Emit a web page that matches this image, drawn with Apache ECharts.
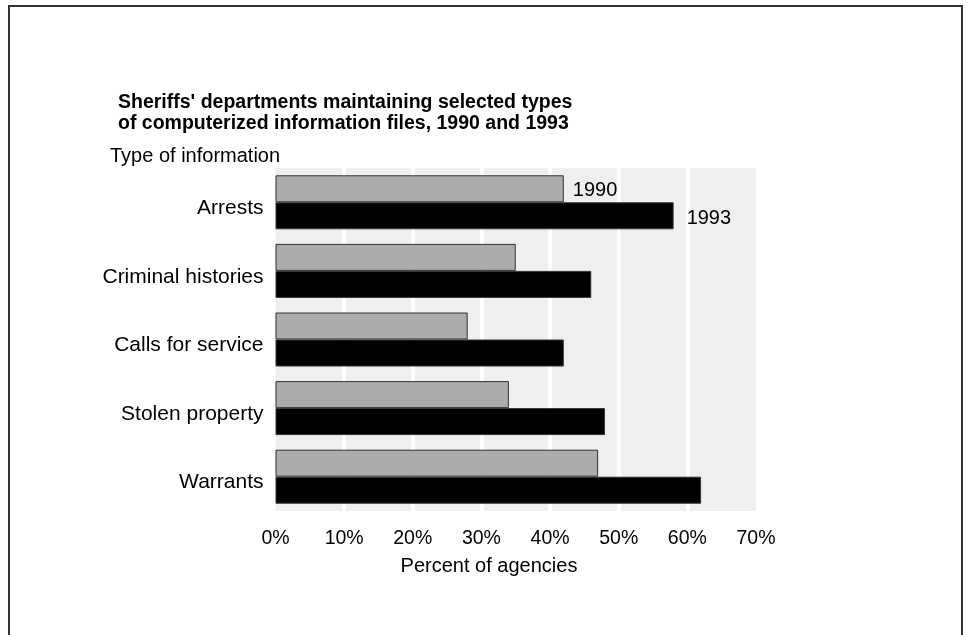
<!DOCTYPE html>
<html>
<head>
<meta charset="utf-8">
<script src="https://cdn.jsdelivr.net/npm/echarts@6/dist/echarts.min.js"></script>
<style>
  html, body { margin: 0; padding: 0; background: #fff; }
  #chart { width: 969px; height: 635px; }
</style>
</head>
<body>
<div id="chart"></div>
<script>
// Types of computerized information files kept by sheriffs' departments
const categories = ['Arrests', 'Criminal histories', 'Calls for service', 'Stolen property', 'Warrants'];
const seriesNames = ['1990', '1993'];
const values1990 = [42, 35, 28, 34, 47];
const values1993 = [58, 46, 42, 48, 62];
const tickValues = [0, 10, 20, 30, 40, 50, 60, 70];

const FONT = 'Liberation Sans, Arial, Helvetica, sans-serif';

// Only the first category carries the year labels beside its bars
function withYearLabel(values, name, distance, dy) {
  return values.map((v, i) => i === 0
    ? { value: v, label: { show: true, position: 'right', distance: distance, offset: [0, dy],
        formatter: name, color: '#000', fontFamily: FONT, fontSize: 20 } }
    : v);
}

const chart = echarts.init(document.getElementById('chart'), null, { renderer: 'canvas' });

chart.setOption({
  backgroundColor: '#fff',
  animation: false,
  title: {
    text: "Sheriffs' departments maintaining selected types\nof computerized information files, 1990 and 1993",
    left: 113,
    top: 87,
    textStyle: { fontFamily: FONT, fontSize: 19.5, fontWeight: 'bold', color: '#000', lineHeight: 21 }
  },
  graphic: [
    {
      type: 'rect',
      shape: { x: 9, y: 6, width: 953, height: 700 },
      style: { fill: 'none', stroke: '#333', lineWidth: 2 },
      silent: true
    },
    {
      type: 'text',
      left: 110,
      top: 146,
      style: { text: 'Type of information', fontFamily: FONT, fontSize: 20, fill: '#000' }
    },
    {
      type: 'text',
      x: 489,
      y: 566,
      style: {
        text: 'Percent of agencies', fontFamily: FONT, fontSize: 20, fill: '#000',
        textAlign: 'center', textVerticalAlign: 'middle'
      }
    }
  ],
  grid: {
    left: 275.5,
    right: 213,
    top: 168,
    bottom: 124,
    show: true,
    backgroundColor: '#efefef',
    borderWidth: 0,
    containLabel: false
  },
  xAxis: {
    type: 'value',
    min: tickValues[0],
    max: tickValues[tickValues.length - 1],
    interval: 10,
    axisLine: { show: false },
    axisTick: { show: false },
    axisLabel: {
      formatter: '{value}%',
      color: '#000',
      fontFamily: FONT,
      fontSize: 19.5,
      margin: 18
    },
    splitLine: {
      show: true,
      lineStyle: {
        color: ['rgba(0,0,0,0)', '#fff', '#fff', '#fff', '#fff', '#fff', '#fff', 'rgba(0,0,0,0)'],
        width: 4
      }
    }
  },
  yAxis: {
    type: 'category',
    inverse: true,
    data: categories,
    axisLine: { show: false },
    axisTick: { show: false },
    axisLabel: {
      margin: 12,
      formatter: (v) => '{c|' + v + '}',
      rich: {
        c: { color: '#000', fontFamily: FONT, fontSize: 21, padding: [12, 0, 0, 0] }
      }
    },
    splitLine: { show: false }
  },
  series: [
    {
      name: seriesNames[0],
      type: 'bar',
      data: withYearLabel(values1990, seriesNames[0], 9, 2),
      barWidth: 27,
      barGap: '0%',
      itemStyle: { color: '#acacac', borderColor: '#333', borderWidth: 1 }
    },
    {
      name: seriesNames[1],
      type: 'bar',
      data: withYearLabel(values1993, seriesNames[1], 13, 3),
      barWidth: 27,
      barGap: '0%',
      itemStyle: { color: '#000', borderColor: '#333', borderWidth: 1 }
    }
  ]
});
</script>
</body>
</html>
